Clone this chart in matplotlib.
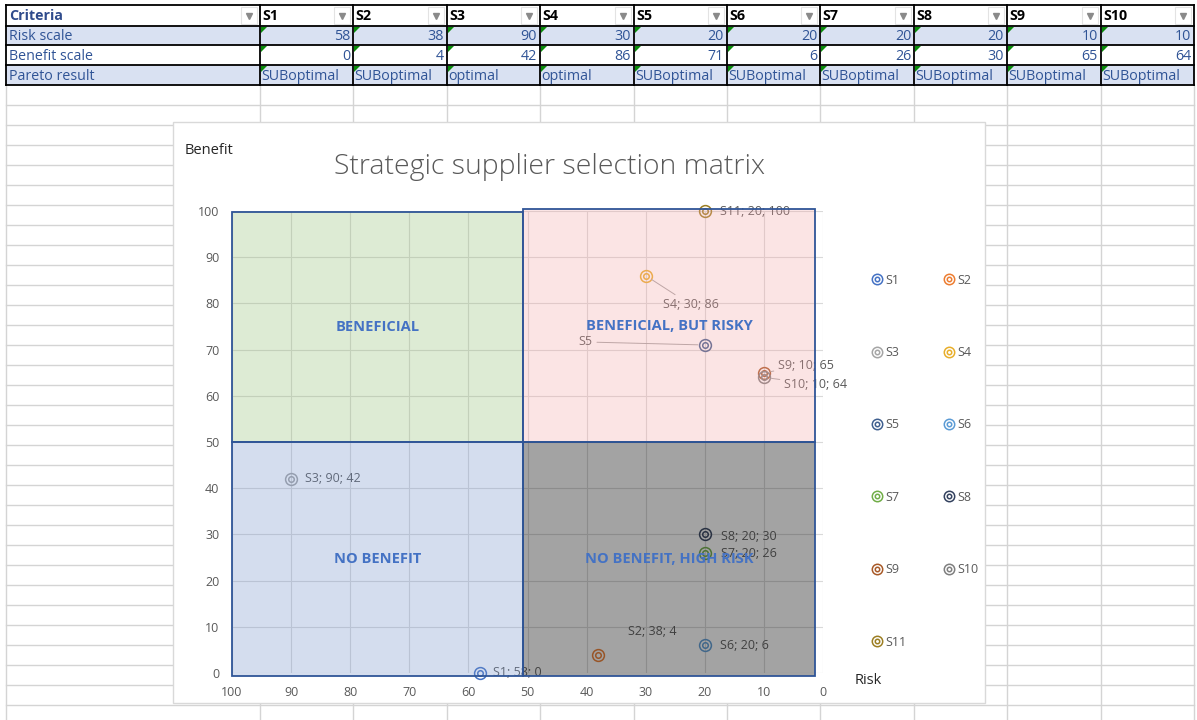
import matplotlib
matplotlib.use("Agg")
import matplotlib.pyplot as plt
from matplotlib.patches import Rectangle, Polygon
from matplotlib.lines import Line2D

plt.rcParams['font.family'] = ['Open Sans', 'DejaVu Sans']

# ---- table data ----
criteria = ["Risk scale", "Benefit scale", "Pareto result"]
suppliers = ["S1", "S2", "S3", "S4", "S5", "S6", "S7", "S8", "S9", "S10"]
risk_scale = [58, 38, 90, 30, 20, 20, 20, 20, 10, 10]
benefit_scale = [0, 4, 42, 86, 71, 6, 26, 30, 65, 64]
pareto_result = ["SUBoptimal", "SUBoptimal", "optimal", "optimal", "SUBoptimal",
                 "SUBoptimal", "SUBoptimal", "SUBoptimal", "SUBoptimal", "SUBoptimal"]

# ---- chart series (chart has one extra point, S11) ----
series_names = suppliers + ["S11"]
series_risk = risk_scale + [20]
series_benefit = benefit_scale + [100]
series_colors = ["#4472C4", "#ED7D31", "#A5A5A5", "#E8AE2A", "#3F5F8F", "#5B9BD5",
                 "#70AD47", "#34425F", "#A85A28", "#7F7F7F", "#9C7E22"]

quadrant_names = ["BENEFICIAL", "BENEFICIAL, BUT RISKY", "NO BENEFIT", "NO BENEFIT, HIGH RISK"]
risk_ticks = [100, 90, 80, 70, 60, 50, 40, 30, 20, 10, 0]
benefit_ticks = [0, 10, 20, 30, 40, 50, 60, 70, 80, 90, 100]

# label placement (pixel offsets, alignment, leader line)
label_style = {
    "S1": ((13, 0), "left", False),
    "S2": ((30, 23), "left", False),
    "S3": ((14, 0), "left", False),
    "S4": ((17, -29), "left", True),
    "S5": ((-112, 3), "right", True),
    "S6": ((15, 0), "left", False),
    "S7": ((16, -1), "left", False),
    "S8": ((16, -2), "left", False),
    "S9": ((14, 7), "left", True),
    "S10": ((20, -7), "left", True),
    "S11": ((15, -1), "left", False),
}

W, H = 1197, 720
fig = plt.figure(figsize=(W / 100, H / 100), dpi=100)
bg = fig.add_axes([0, 0, 1, 1])
bg.set_xlim(0, W)
bg.set_ylim(H, 0)
bg.axis("off")

# ---- spreadsheet grid ----
col_edges = [6, 260, 353, 447, 540, 634, 727, 820, 914, 1007, 1101, 1194]
row_edges = [5, 26, 45, 65, 85]
grid_c = "#D4D4D4"
for x in col_edges:
    bg.plot([x, x], [85, H], color=grid_c, lw=1, zorder=1)
for y in range(105, H, 20):
    bg.plot([6, 1194], [y, y], color=grid_c, lw=1, zorder=1)

# row fills
fills = ["white", "#D9E1F2", "white", "#D9E1F2"]
for r in range(4):
    bg.add_patch(Rectangle((6, row_edges[r]), 1188, row_edges[r + 1] - row_edges[r],
                           facecolor=fills[r], edgecolor="none", zorder=1))

txt_c = "#305496"
fs = 10.3
# header row
bg.text(9, 16, "Criteria", fontsize=fs, fontweight="bold", color="#2F4B8C",
        va="center", ha="left", zorder=3)
for i, s in enumerate(suppliers):
    bg.text(col_edges[i + 1] + 2, 16, s, fontsize=fs, fontweight="bold", color="black",
            va="center", ha="left", zorder=3)
for i in range(len(col_edges) - 1):
    right = col_edges[i + 1]
    bg.add_patch(Rectangle((right - 19, 7), 16, 17, facecolor="white",
                           edgecolor="#E3E3E3", lw=0.8, zorder=2))
    bg.plot(right - 11, 15.5, marker="v", color="#8A8A8A", ms=4, zorder=3)

# body rows
values = [risk_scale, benefit_scale, pareto_result]
for r, name in enumerate(criteria):
    yc = (row_edges[r + 1] + row_edges[r + 2]) / 2 + 1
    bg.text(9, yc, name, fontsize=fs, color=txt_c, va="center", ha="left", zorder=3)
    for i, v in enumerate(values[r]):
        left, right = col_edges[i + 1], col_edges[i + 2]
        if isinstance(v, str):
            bg.text(left + 1, yc, v, fontsize=fs, color=txt_c, va="center", ha="left", zorder=3)
        else:
            bg.text(right - 3, yc, str(v), fontsize=fs, color=txt_c, va="center", ha="right", zorder=3)
        top = row_edges[r + 1]
        bg.add_patch(Polygon([(left + 1, top + 1), (left + 7, top + 1), (left + 1, top + 7)],
                             closed=True, facecolor="#0A8A0A", edgecolor="none", zorder=3))

for y in row_edges:
    bg.plot([6, 1194], [y, y], color="black", lw=1.3, zorder=4)
for x in col_edges:
    bg.plot([x, x], [5, 85], color="black", lw=1.3, zorder=4)

# ---- chart area ----
bg.add_patch(Rectangle((173, 122), 812, 581, facecolor="white", edgecolor="#D9D9D9",
                       lw=1, zorder=5))
bg.text(550, 167, "Strategic supplier selection matrix", fontsize=20.5, color="#595959",
        ha="center", va="center", zorder=6, fontweight="light")
bg.text(185, 150, "Benefit", fontsize=10.5, color="#262626", ha="left", va="center", zorder=6)
bg.text(855, 681, "Risk", fontsize=10.5, color="#262626", ha="left", va="center", zorder=6)

x0, x1, y0, y1 = 232, 823, 211, 673
ax = fig.add_axes([x0 / W, (H - y1) / H, (x1 - x0) / W, (y1 - y0) / H])
ax.set_facecolor("none")
ax.set_xlim(100, 0)
ax.set_ylim(0, 100)
ax.set_xticks(risk_ticks)
ax.set_yticks(benefit_ticks)
for sp in ax.spines.values():
    sp.set_visible(False)
ax.grid(True, color="#D9D9D9", lw=0.8)
ax.set_axisbelow(True)
ax.tick_params(length=0, labelsize=9, labelcolor="#595959", pad=9)

# points
handles = []
for name, rx, by, c in zip(series_names, series_risk, series_benefit, series_colors):
    ax.plot([rx], [by], "o", mfc="none", mec=c, ms=8.5, mew=1.1, zorder=3, clip_on=False)
    ax.plot([rx], [by], "o", mfc="none", mec=c, ms=4, mew=1.1, zorder=3, clip_on=False)
    (off, ha, leader) = label_style[name]
    label = name if name == "S5" else f"{name}; {rx}; {by}"
    ap = dict(arrowstyle="-", color="#A6A6A6", lw=0.7, shrinkA=1, shrinkB=5) if leader else None
    ax.annotate(label, (rx, by), xytext=off, textcoords="offset pixels", fontsize=9,
                color="#595959", ha=ha, va="center", zorder=3, arrowprops=ap,
                annotation_clip=False)
    handles.append((Line2D([], [], ls="none", marker="o", mfc="none", mec=c, ms=7.5, mew=1.1),
                    Line2D([], [], ls="none", marker="o", mfc="none", mec=c, ms=3.2, mew=1.1)))

# quadrant shapes: (risk_left, benefit_bottom, width, height), fill
quad_boxes = [
    ((50.7, 50.0, 49.3, 49.8), (0.57, 0.74, 0.45, 0.30)),
    ((1.4, 50.0, 49.3, 50.4), (0.96, 0.65, 0.65, 0.30)),
    ((50.7, -0.7, 49.3, 50.7), (0.45, 0.57, 0.79, 0.30)),
    ((1.4, -0.7, 49.3, 50.6), (0.10, 0.10, 0.10, 0.40)),
]
for name, ((rl, bb, w, h), fc) in zip(quadrant_names, quad_boxes):
    ax.add_patch(Rectangle((rl, bb), w, h, facecolor=fc, edgecolor="#2F5597", lw=1.3,
                           zorder=4, clip_on=False))
    ax.text(rl + w / 2, bb + h / 2, name, fontsize=10.5, fontweight="bold", color="#4472C4",
            ha="center", va="center", zorder=5)

order = [0, 2, 4, 6, 8, 10, 1, 3, 5, 7, 9]
leg = ax.legend([handles[i] for i in order], [series_names[i] for i in order], ncol=2,
                loc="upper left", bbox_to_anchor=(1.075, 0.875), frameon=False,
                fontsize=9, labelspacing=4.75, columnspacing=3.0, handlelength=0.8,
                handletextpad=0.25, borderaxespad=0)
for t in leg.get_texts():
    t.set_color("#595959")

fig.savefig("out.png", dpi=100)
